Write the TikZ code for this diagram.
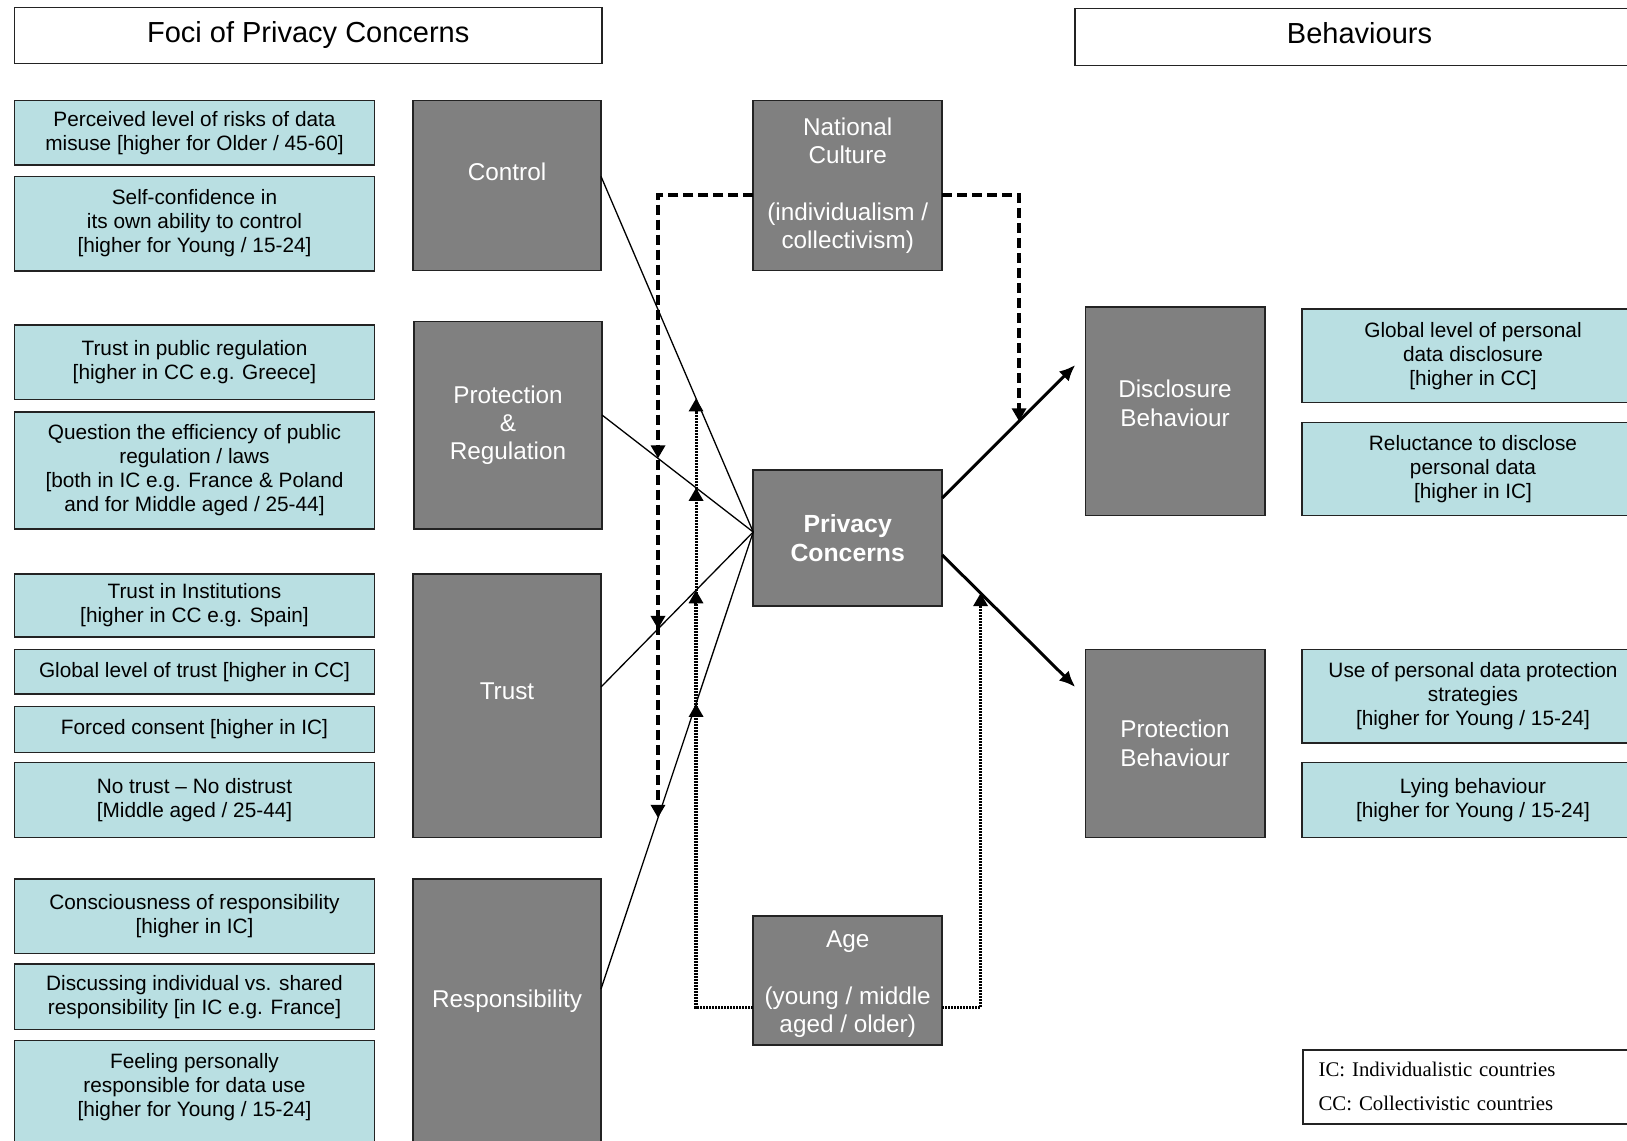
\documentclass[tikz,border=0pt]{standalone}
\usepackage{fontspec}
\setmainfont{Liberation Sans}
\newfontfamily\legendfont{Liberation Serif}
\usetikzlibrary{arrows.meta,calc}
\definecolor{lblue}{RGB}{185,223,226}
\definecolor{dgrey}{RGB}{128,128,128}
\definecolor{edgec}{RGB}{35,35,35}
\begin{document}
\begin{tikzpicture}[x=1pt,y=-1pt,
  basebox/.style={draw=edgec,line width=1.5pt,inner sep=0pt,outer sep=0pt,align=center},
  hdr/.style={basebox,fill=white,font=\fontsize{29}{33}\selectfont},
  lbox/.style={basebox,fill=lblue,minimum width=360pt,font=\fontsize{20.8}{24}\selectfont},
  rbox/.style={basebox,fill=lblue,minimum width=342pt,font=\fontsize{20.8}{24}\selectfont},
  dbox/.style={basebox,fill=dgrey,text=white,font=\fontsize{24.3}{28.3}\selectfont},
  thinline/.style={line width=1.3pt},
  thickarrow/.style={line width=3pt,-{Latex[length=16pt,width=14pt]}},
  dasharrow/.style={line width=3.4pt,dash pattern=on 10pt off 5pt,-{Triangle[length=13pt,width=14pt]}},
  dotarrow/.style={line width=3pt,dash pattern=on 2pt off 1pt,-{Triangle[length=13pt,width=14pt]}}
]
\useasboundingbox (0,0) rectangle (1627,1140);
\clip (0,0) rectangle (1627,1140);

% headers
\node[hdr,minimum width=587.5pt,minimum height=56pt] (foci) at (308.25,35.3) {Foci of Privacy Concerns};
\node[hdr,minimum width=569pt,minimum height=57pt] (behav) at (1359.5,36.85) {Behaviours\\[-26pt]~};

% left light-blue boxes
\node[lbox,minimum height=64.4pt] (b1) at (194.5,132.8) {Perceived level of risks of data\\misuse [higher for Older / 45-60]};
\node[lbox,minimum height=94.4pt] (b2) at (194.5,223.6) {Self-confidence in\\its own ability to control\\{}[higher for Young / 15-24]};
\node[lbox,minimum height=74.7pt] (b3) at (194.5,362.2) {Trust in public regulation\\{}[higher in CC e.g. Greece]};
\node[lbox,minimum height=117pt] (b4) at (194.5,470.5) {Question the efficiency of public\\regulation / laws\\{}[both in IC e.g. France \& Poland\\and for Middle aged / 25-44]};
\node[lbox,minimum height=63.2pt] (b5) at (194.5,605.4) {Trust in Institutions\\{}[higher in CC e.g. Spain]};
\node[lbox,minimum height=44.5pt] (b6) at (194.5,671.75) {Global level of trust [higher in CC]};
\node[lbox,minimum height=45.7pt] (b7) at (194.5,729.5) {Forced consent [higher in IC]};
\node[lbox,minimum height=74.7pt] (b8) at (194.5,800) {No trust – No distrust\\{}[Middle aged / 25-44]};
\node[lbox,minimum height=74.8pt] (b9) at (194.5,916.2) {Consciousness of responsibility\\{}[higher in IC]};
\node[lbox,minimum height=65.3pt] (b10) at (194.5,996.7) {Discussing individual vs. shared\\responsibility [in IC e.g. France]};
\node[lbox,minimum height=113.4pt] (b11) at (194.5,1097.4) {Feeling personally\\responsible for data use\\{}[higher for Young / 15-24]\\~};

% dark focus boxes
\node[dbox,minimum width=188pt,minimum height=170pt] (ctrl) at (507,185.7) {Control\\~};
\node[dbox,minimum width=188pt,minimum height=207.5pt] (prot) at (508,425.4) {Protection\\\&\\Regulation};
\node[dbox,minimum width=188pt,minimum height=263.5pt] (trust) at (507,705.5) {Trust\\~};
\node[dbox,minimum width=188pt,minimum height=267.2pt] (resp) at (507,1012.4) {Responsibility\\~};

% middle boxes
\node[dbox,minimum width=189pt,minimum height=170pt] (nc) at (847.7,185.7) {National\\Culture\\~\\(individualism /\\collectivism)};
\node[dbox,minimum width=189pt,minimum height=136pt,font=\fontsize{24.8}{28.5}\selectfont\bfseries] (pc) at (847.7,538) {Privacy\\Concerns};
\node[dbox,minimum width=189pt,minimum height=128.7pt] (age) at (847.7,980.5) {\rule{0pt}{24pt}Age\\~\\(young / middle\\aged / older)};

% right dark boxes
\node[dbox,minimum width=179.5pt,minimum height=208.6pt] (disc) at (1175,411.4) {Disclosure\\Behaviour\\[-12pt]~};
\node[dbox,minimum width=179.5pt,minimum height=187.8pt] (pbeh) at (1175,743.4) {Protection\\Behaviour};

% right light-blue boxes
\node[rbox,minimum height=93.4pt] (r1) at (1473,355.9) {Global level of personal\\data disclosure\\{}[higher in CC]};
\node[rbox,minimum height=93.4pt] (r2) at (1473,469) {Reluctance to disclose\\personal data\\{}[higher in IC]};
\node[rbox,minimum height=93.4pt] (r3) at (1473,696.2) {Use of personal data protection\\strategies\\{}[higher for Young / 15-24]};
\node[rbox,minimum height=74.7pt] (r4) at (1473,800) {Lying behaviour\\{}[higher for Young / 15-24]};

% legend
\node[draw=edgec,line width=1.5pt,fill=white,outer sep=0pt,inner xsep=15.6pt,inner ysep=0pt,
      text width=310pt,align=left,minimum height=73.7pt,
      font=\legendfont\fontsize{20.8}{34}\selectfont] (legend) at (1473.6,1086.9)
  {IC: Individualistic countries\\CC: Collectivistic countries};

% connector anchors
\coordinate (conv) at ([yshift=6pt]pc.west);
\coordinate (cS) at ([yshift=9.3pt]ctrl.east);
\coordinate (pS) at ([yshift=10.4pt]prot.east);
\coordinate (tS) at ([yshift=18.5pt]trust.east);
\coordinate (rS) at ([yshift=23.4pt]resp.east);
\coordinate (a1s) at ([yshift=40pt]pc.east);
\coordinate (a1e) at ([xshift=-10pt,yshift=46.4pt]disc.west);
\coordinate (a2s) at ([yshift=-17pt]pc.east);
\coordinate (a2e) at ([xshift=-10pt,yshift=56.4pt]pbeh.west);

% foci -> privacy concerns
\draw[thinline] (cS) -- (conv);
\draw[thinline] (pS) -- (conv);
\draw[thinline] (tS) -- (conv);
\draw[thinline] (rS) -- (conv);

% privacy concerns -> behaviours
\draw[thickarrow] (a1s) -- (a1e);
\draw[thickarrow] (a2s) -- (a2e);

% national culture (dashed)
\coordinate (dl) at (658,195);
\coordinate (dlb) at (658,1100);
\coordinate (dr) at (1019,195);
\coordinate (drb) at (1019,1100);
\draw[dasharrow] ([yshift=-9.3pt]nc.west) -| (intersection of dl--dlb and rS--conv);
\draw[dasharrow] ([yshift=-9.3pt]nc.west) -| (intersection of dl--dlb and tS--conv);
\draw[dasharrow] ([yshift=-9.3pt]nc.west) -| (intersection of dl--dlb and pS--conv);
\draw[dasharrow] ([yshift=-9.3pt]nc.east) -| (intersection of dr--drb and a1s--a1e);

% age (dotted)
\coordinate (ol) at (696,1007.5);
\coordinate (olt) at (696,100);
\coordinate (orr) at (980.5,1007.5);
\coordinate (ort) at (980.5,100);
\draw[dotarrow] ([yshift=-27pt]age.west) -| (intersection of ol--olt and cS--conv);
\draw[dotarrow] ([yshift=-27pt]age.west) -| (intersection of ol--olt and pS--conv);
\draw[dotarrow] ([yshift=-27pt]age.west) -| (intersection of ol--olt and tS--conv);
\draw[dotarrow] ([yshift=-27pt]age.west) -| (intersection of ol--olt and rS--conv);
\draw[dotarrow] ([yshift=-27pt]age.east) -| (intersection of orr--ort and a2s--a2e);
\end{tikzpicture}
\end{document}
